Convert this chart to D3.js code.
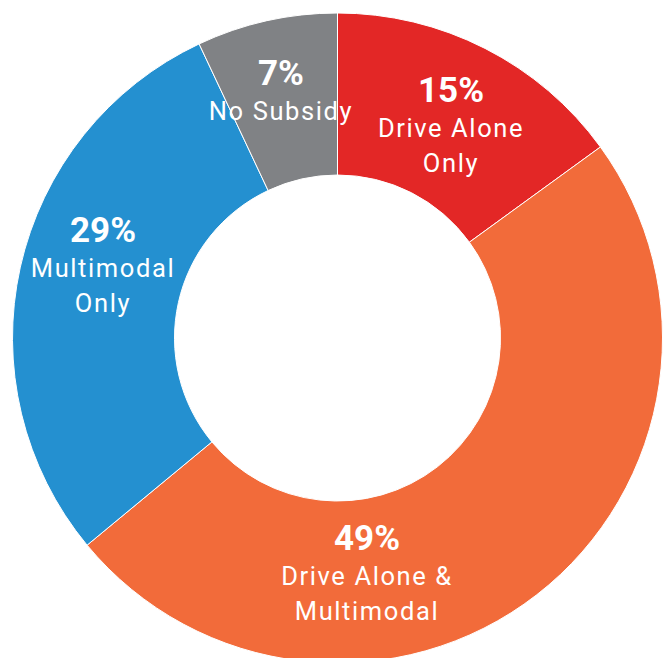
<!DOCTYPE html>
<html><head><meta charset="utf-8">
<script src="https://cdn.jsdelivr.net/npm/d3@7"></script>
<style>html,body{margin:0;padding:0;background:#fff;overflow:hidden}</style>
</head><body>
<svg id="chart" width="665" height="658"></svg>
<script>
// Data
const categories = ["Drive Alone Only", "Drive Alone & Multimodal", "Multimodal Only", "No Subsidy"];
const values = [15, 49, 29, 7];
const percentLabels = ["15%", "49%", "29%", "7%"];
const labelLines = [["Drive Alone", "Only"], ["Drive Alone &", "Multimodal"], ["Multimodal", "Only"], ["No Subsidy"]];
const colors = ["#E32726", "#F26B3A", "#2490D0", "#808285"];

// Layout
const W = 665, H = 658;
const cx = 337.5, cy = 338, outerR = 325, innerR = 163;
// label anchor (x, y of the percentage baseline)
const labelAnchors = [[451, 102], [367, 550], [103, 242], [281, 85]];

const svg = d3.select("#chart");
const g = svg.append("g").attr("transform", `translate(${cx},${cy})`);

const pie = d3.pie().sort(null).value(d => d)(values);
const arc = d3.arc().innerRadius(innerR).outerRadius(outerR);
const color = d3.scaleOrdinal().domain(categories).range(colors);

g.selectAll("path.slice").data(pie).join("path")
  .attr("class", "slice")
  .attr("d", arc)
  .attr("fill", (d, i) => color(categories[i]))
  .attr("stroke", "#fff")
  .attr("stroke-width", 1);

const labels = svg.selectAll("g.lbl").data(pie).join("g").attr("class", "lbl");
labels.append("text")
  .attr("x", (d, i) => labelAnchors[i][0])
  .attr("y", (d, i) => labelAnchors[i][1])
  .attr("text-anchor", "middle")
  .attr("fill", "#fff")
  .attr("font-family", "Roboto, 'DejaVu Sans', sans-serif")
  .attr("font-weight", "bold")
  .attr("font-size", 35)
  .text((d, i) => percentLabels[i]);
labels.each(function(d, i) {
  const sel = d3.select(this);
  labelLines[i].forEach((line, j) => {
    sel.append("text")
      .attr("x", labelAnchors[i][0])
      .attr("y", labelAnchors[i][1] + 35 * (j + 1))
      .attr("text-anchor", "middle")
      .attr("fill", "#fff")
      .attr("font-family", "Roboto, 'DejaVu Sans', sans-serif")
      .attr("font-size", 25.5)
      .attr("letter-spacing", 1.6)
      .text(line);
  });
});
</script>
</body></html>
